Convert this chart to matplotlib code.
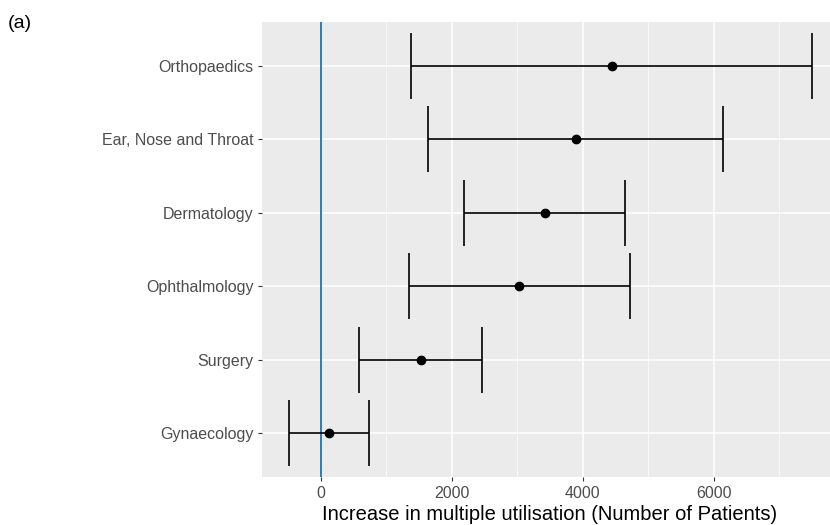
import numpy as np
import matplotlib.pyplot as plt
from matplotlib.ticker import MultipleLocator

plt.rcParams['font.family'] = ['Liberation Sans', 'DejaVu Sans']

# specialties, bottom to top
specialties = ['Gynaecology', 'Surgery', 'Ophthalmology', 'Dermatology',
               'Ear, Nose and Throat', 'Orthopaedics']
estimate = [122, 1532, 3032, 3424, 3893, 4443]
lower = [-489, 584, 1352, 2192, 1642, 1375]
upper = [733, 2471, 4717, 4646, 6140, 7500]

W, H = 830, 525
fig = plt.figure(figsize=(W / 100, H / 100), dpi=100)
# panel runs past the right edge of the image, as in the original
ax = fig.add_axes([262 / W, (H - 477) / H, (838 - 262) / W, (477 - 22) / H])
ax.set_facecolor('#EBEBEB')
for s in ax.spines.values():
    s.set_visible(False)

y = np.arange(len(specialties))
cap = 0.45

ax.hlines(y, lower, upper, color='black', lw=1.2, zorder=3)
ax.vlines(lower, y - cap, y + cap, color='black', lw=1.2, zorder=3)
ax.vlines(upper, y - cap, y + cap, color='black', lw=1.2, zorder=3)
ax.plot(estimate, y, 'o', color='black', ms=6, zorder=4)
ax.axvline(0, color='#2b7bba', lw=1.4, zorder=2)

ax.set_xlim(-896, 7900)
ax.set_ylim(-0.6, len(specialties) - 0.4)
ax.xaxis.set_major_locator(MultipleLocator(2000))
ax.xaxis.set_minor_locator(MultipleLocator(1000))
ax.set_yticks(y)
ax.set_yticklabels(specialties)

ax.grid(which='major', color='white', lw=1.1, zorder=0)
ax.grid(which='minor', axis='x', color='white', lw=0.5, zorder=0)
ax.set_axisbelow(True)

ax.tick_params(which='major', length=2.7, width=0.8, color='#333333',
               labelcolor='#4D4D4D', labelsize=11.5, pad=3.5)
ax.tick_params(which='minor', length=0)

ax.set_xlabel('Increase in multiple utilisation (Number of Patients)',
              fontsize=14.5, color='black', labelpad=3)

fig.text(8 / W, 1 - 23 / H, '(a)', fontsize=14, va='center', ha='left')

fig.savefig('out.png', dpi=100)
